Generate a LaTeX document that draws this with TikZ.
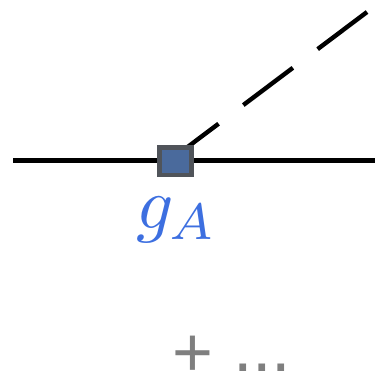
\documentclass[tikz,border=0pt]{standalone}
\usepackage{graphicx}
\usepackage{fontspec}
\newfontfamily\moresans{Liberation Sans}
\definecolor{boxedge}{HTML}{50545A}
\definecolor{boxfill}{HTML}{4A6A9C}
\definecolor{labelblue}{HTML}{3D6FE0}
\definecolor{moregray}{HTML}{7F7F7F}
\tikzset{
  fermion/.style={line width=4.4pt,black},
  scalar/.style={line width=4.4pt,black,dash pattern=on 62pt off 31pt},
  vertexbox/.style={draw=boxedge,fill=boxfill,line width=4.5pt,minimum width=32pt,minimum height=27.5pt,inner sep=0pt},
  coupling/.style={text=labelblue,inner sep=0pt},
  more/.style={text=moregray,inner sep=0pt,anchor=base west,font=\moresans\fontsize{70}{80}\selectfont}
}
\begin{document}
\begin{tikzpicture}[x=1pt,y=-1pt]
\useasboundingbox[clip] (0,0) rectangle (375,372);
\coordinate (L) at (13,160.5);
\coordinate (R) at (375,160.5);
\coordinate (S) at (367,12);
\coordinate (T) at (169,161);
\draw[fermion] (L) -- (R);
\draw[scalar] (T) -- (S);
\node[vertexbox] (V) at (175.5,161) {};
\node[coupling] (G) at (177,220) {\scalebox{7.3}{$g\mkern-1mu_A$}};
\node[more] (M) at (172.5,371.5) {\raisebox{-5pt}{+} ...};
\end{tikzpicture}
\end{document}
